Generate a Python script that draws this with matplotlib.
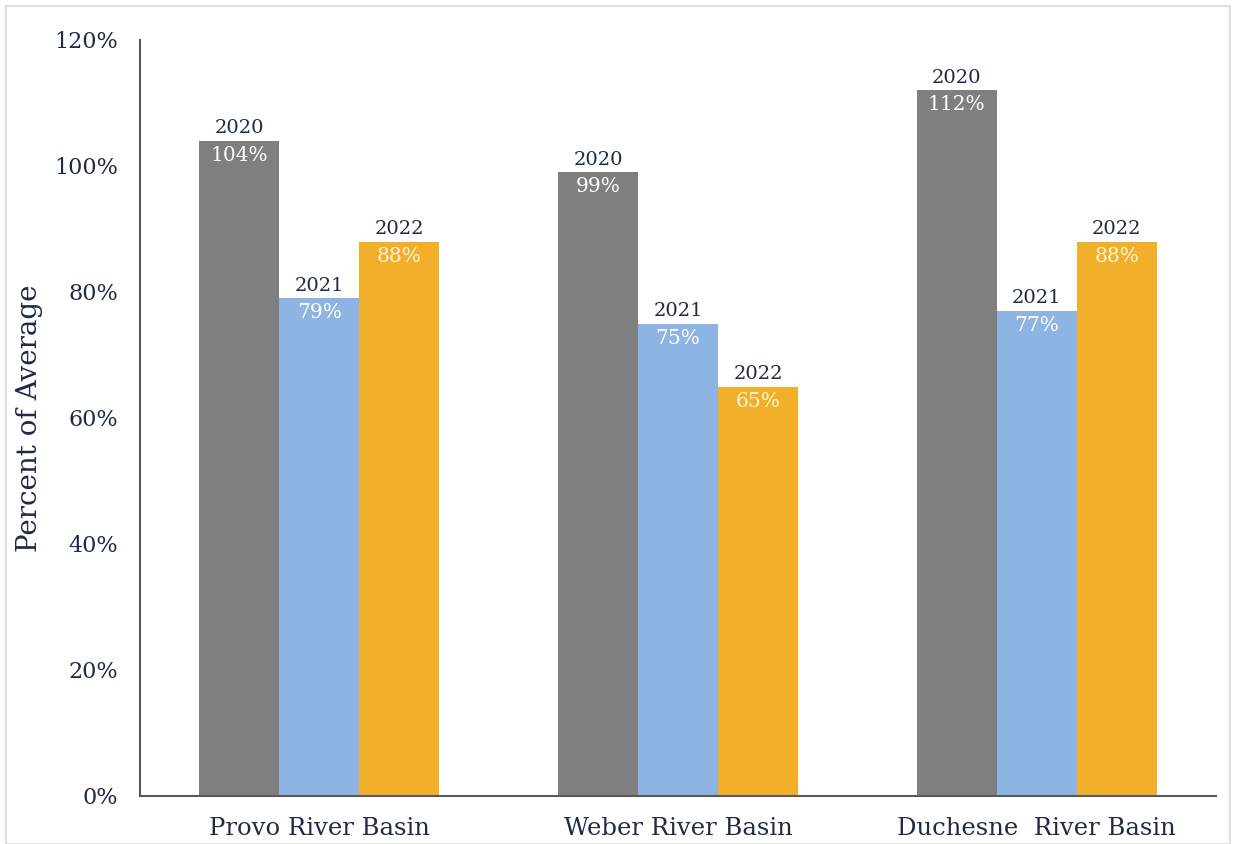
import numpy as np
import matplotlib
matplotlib.use('Agg')
import matplotlib.pyplot as plt
from matplotlib.patches import Rectangle

# data
basins = ['Provo River Basin', 'Weber River Basin', 'Duchesne  River Basin']
years = ['2020', '2021', '2022']
pct_2020 = [104, 99, 112]
pct_2021 = [79, 75, 77]
pct_2022 = [88, 65, 88]
y_ticks = [0, 20, 40, 60, 80, 100, 120]

colors = ['#7F7F7F', '#8DB4E2', '#F2B02A']
value_colors = ['#FFFFFF', '#FFFFFF', '#FFF4DC']
navy = '#1F2A44'

plt.rcParams['font.family'] = ['DejaVu Serif']

fig = plt.figure(figsize=(12.36, 8.44), dpi=100)
ax = fig.add_axes([140 / 1236, 1 - 796 / 844, 1076 / 1236, 756 / 844])

x = np.arange(len(basins))
width = 0.223
series = [pct_2020, pct_2021, pct_2022]
for i, (vals, year) in enumerate(zip(series, years)):
    pos = x + (i - 1) * width
    ax.bar(pos, vals, width=width, color=colors[i], linewidth=0)
    for px, v in zip(pos, vals):
        ax.text(px, v + 0.6, year, ha='center', va='bottom',
                fontsize=14, color=navy)
        ax.text(px, v - 0.8, f'{v}%', ha='center', va='top',
                fontsize=14.5, color=value_colors[i])

ax.set_xlim(-0.5, 2.5)
ax.set_ylim(0, 120)
ax.set_yticks(y_ticks)
ax.set_yticklabels([f'{t}%' for t in y_ticks], fontsize=16, color=navy)
ax.set_xticks(x)
ax.set_xticklabels(basins, fontsize=17.5, color=navy)
ax.tick_params(length=0)
ax.tick_params(axis='y', pad=16)
ax.tick_params(axis='x', pad=15)
ax.set_ylabel('Percent of Average', fontsize=20, color=navy, labelpad=8)

for s in ['top', 'right']:
    ax.spines[s].set_visible(False)
for s in ['left', 'bottom']:
    ax.spines[s].set_color('#595959')
    ax.spines[s].set_linewidth(1.5)

# thin light frame around the picture
fig.patches.append(Rectangle((6 / 1236, 0), 1 - 12 / 1236, 1 - 6 / 844,
                             transform=fig.transFigure, fill=False,
                             edgecolor='#D9D9D9', linewidth=1.2))

plt.savefig('out.png', dpi=100)
plt.close()
